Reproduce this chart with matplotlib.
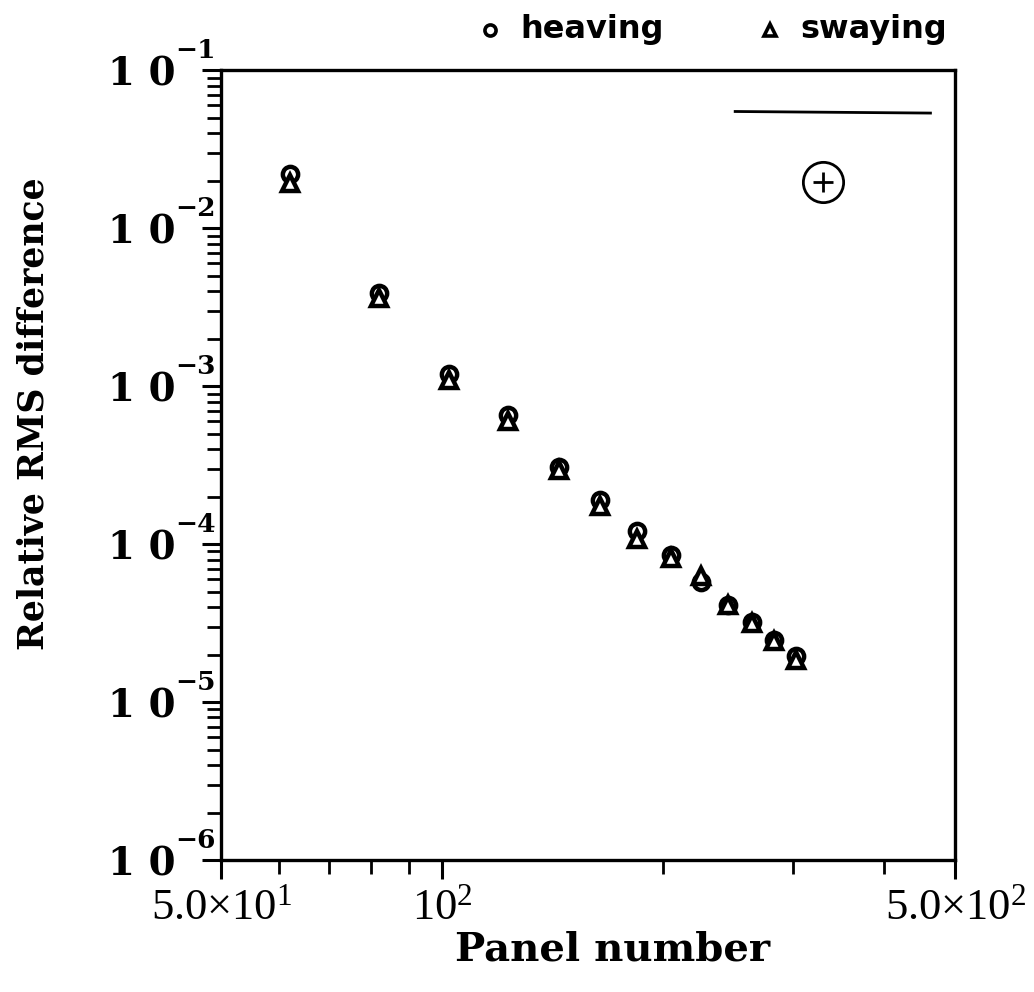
import matplotlib
matplotlib.use("Agg")
import matplotlib.pyplot as plt
from matplotlib.ticker import FixedLocator, NullFormatter, FixedFormatter

plt.rcParams['mathtext.fontset'] = 'custom'
plt.rcParams['mathtext.rm'] = 'Liberation Serif'
plt.rcParams['mathtext.bf'] = 'DejaVu Serif:bold'
plt.rcParams['mathtext.it'] = 'Liberation Serif:italic'

# Panel counts and relative RMS differences
panels = [62, 82, 102, 123, 144, 164, 184, 205, 225, 245, 264, 283, 303]
heaving = [2.2e-2, 3.9e-3, 1.20e-3, 6.6e-4, 3.1e-4, 1.9e-4, 1.22e-4, 8.5e-5,
           5.8e-5, 4.15e-5, 3.2e-5, 2.47e-5, 1.95e-5]
swaying = [1.95e-2, 3.6e-3, 1.10e-3, 6.0e-4, 2.95e-4, 1.75e-4, 1.08e-4, 8.2e-5,
           6.3e-5, 4.1e-5, 3.15e-5, 2.45e-5, 1.85e-5]

x_ticks = [50, 100, 500]
x_tick_labels = [r'$\mathrm{5.0{\times}10^{1}}$', r'$\mathrm{10^{2}}$',
                 r'$\mathrm{5.0{\times}10^{2}}$']
y_ticks = [1e-6, 1e-5, 1e-4, 1e-3, 1e-2, 1e-1]
y_tick_base = ['1 0'] * len(y_ticks)
y_tick_exponents = ['\u22126', '\u22125', '\u22124', '\u22123', '\u22122', '\u22121']

fig = plt.figure(figsize=(10.34, 9.92), dpi=100)
ax = fig.add_axes([0.214, 0.133, 0.710, 0.796])
ax.set_xscale('log')
ax.set_yscale('log')
ax.set_xlim(50, 500)
ax.set_ylim(1e-6, 1e-1)

ax.plot(panels, heaving, linestyle='none', marker='o', markersize=11,
        markerfacecolor='white', markeredgecolor='black', markeredgewidth=3.2,
        zorder=3)
ax.plot(panels, swaying, linestyle='none', marker='^', markersize=11,
        markerfacecolor='white', markeredgecolor='black', markeredgewidth=3.2,
        zorder=3)

for s in ax.spines.values():
    s.set_linewidth(2.4)

ax.xaxis.set_major_locator(FixedLocator(x_ticks))
ax.xaxis.set_major_formatter(FixedFormatter(x_tick_labels))
ax.xaxis.set_minor_locator(FixedLocator([60, 70, 80, 90, 200, 300, 400]))
ax.xaxis.set_minor_formatter(NullFormatter())
ax.yaxis.set_major_locator(FixedLocator(y_ticks))
ax.yaxis.set_major_formatter(FixedFormatter(y_tick_base))
minor_y = [m * 10.0 ** e for e in range(-6, -1) for m in range(2, 10)]
ax.yaxis.set_minor_locator(FixedLocator(minor_y))
ax.yaxis.set_minor_formatter(NullFormatter())

ax.tick_params(axis='both', which='major', direction='out', length=14, width=2.2)
ax.tick_params(axis='both', which='minor', direction='out', length=10, width=2.0)
ax.tick_params(axis='x', which='both', top=False, labelsize=32, pad=4)
ax.tick_params(axis='y', which='both', right=False, labelsize=28, pad=19)
for lbl in ax.get_yticklabels():
    lbl.set_family('DejaVu Serif')
    lbl.set_fontweight('bold')

# Raised exponents of the decade labels
for yv, ex in zip(y_ticks, y_tick_exponents):
    ax.annotate(ex, xy=(0, yv), xycoords=('axes fraction', 'data'),
                xytext=(-4, 5), textcoords='offset points', ha='right',
                va='bottom', family='DejaVu Serif', fontweight='bold',
                fontsize=19, annotation_clip=False)

ax.set_xlabel('Panel number', family='DejaVu Serif', fontweight='bold',
              fontsize=29)
ax.xaxis.set_label_coords(0.533, -0.089)
ax.set_ylabel('Relative RMS difference', family='DejaVu Serif',
              fontweight='bold', fontsize=25)
ax.yaxis.set_label_coords(-0.232, 0.565)

# Reference bar and circled plus in the upper right corner
ax.plot([0.700, 0.966], [0.948, 0.946], transform=ax.transAxes, color='black',
        linewidth=2.0, clip_on=False)
ax.plot([0.819], [0.859], transform=ax.transAxes, marker='o', markersize=29,
        markerfacecolor='none', markeredgecolor='black', markeredgewidth=2.0)
ax.plot([0.819], [0.859], transform=ax.transAxes, marker='+', markersize=14,
        markeredgecolor='black', markeredgewidth=2.0)

# Legend row above the frame
leg_font = dict(family='DejaVu Sans', fontweight='bold', fontsize=23,
                va='center', ha='left')
fig.lines.append(plt.Line2D([0.474], [0.970], transform=fig.transFigure,
                            marker='o', markersize=8, markerfacecolor='white',
                            markeredgecolor='black', markeredgewidth=2.6,
                            linestyle='none'))
fig.text(0.503, 0.970, 'heaving', **leg_font)
fig.lines.append(plt.Line2D([0.745], [0.970], transform=fig.transFigure,
                            marker='^', markersize=8, markerfacecolor='white',
                            markeredgecolor='black', markeredgewidth=2.6,
                            linestyle='none'))
fig.text(0.774, 0.970, 'swaying', **leg_font)

fig.savefig('out.png', dpi=100, facecolor='white')
